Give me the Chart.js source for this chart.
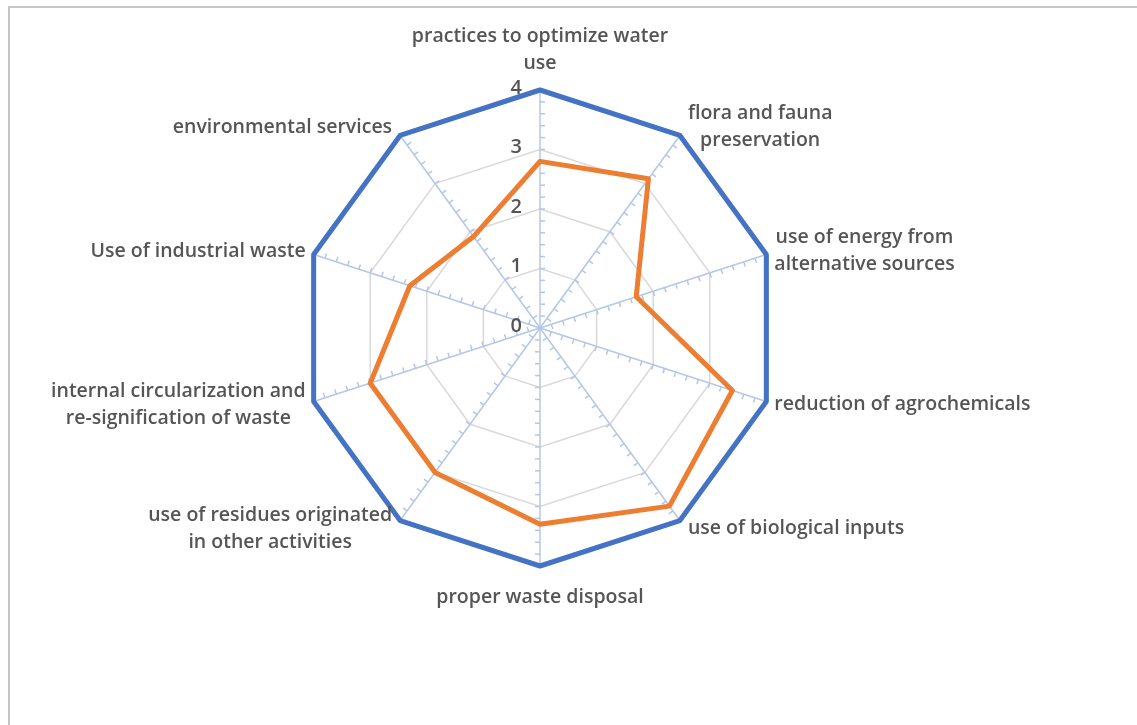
<!DOCTYPE html>
<html>
<head>
<meta charset="utf-8">
<script src="https://cdn.jsdelivr.net/npm/chart.js@4.4.1/dist/chart.umd.min.js"></script>
<style>
  html, body { margin: 0; padding: 0; background: #fff; }
  #frame { position: absolute; left: 8px; top: 6px; width: 1200px; height: 800px;
           border-left: 2px solid #c6c6c6; border-top: 2px solid #c6c6c6; }
  #wrap { position: absolute; left: 0; top: 0; width: 1137px; height: 725px; }
</style>
</head>
<body>
<div id="frame"></div>
<div id="wrap"><canvas id="radar"></canvas></div>
<script>
"use strict";
// Sustainability practices radar: each practice scored 0–4, outer ring = max score.
const practices = [
  ["practices to optimize water", "use"],
  ["flora and fauna", "preservation"],
  ["use of energy from", "alternative sources"],
  ["reduction of agrochemicals"],
  ["use of biological inputs"],
  ["proper waste disposal"],
  ["use of residues originated", "in other activities"],
  ["internal circularization and", "re-signification of waste"],
  ["Use of industrial waste"],
  ["environmental services"]
];
const maxScore = [4, 4, 4, 4, 4, 4, 4, 4, 4, 4];
const score    = [2.8, 3.1, 1.7, 3.4, 3.7, 3.3, 3.0, 3.0, 2.3, 1.9];
const tickValues = [0, 1, 2, 3, 4];

const TEXT = "#555555", AXIS = "#b4c7e7", GRID = "#d9d9d9";
const LABEL_FONT = "600 19.5px 'Open Sans'", TICK_FONT = "600 20px 'Open Sans'";

// small tick marks every 0.2 along each spoke, on the clockwise side
const spokeTicks = {
  id: "spokeTicks",
  beforeDatasetsDraw(chart){
    const s = chart.scales.r, ctx = chart.ctx;
    ctx.save();
    ctx.strokeStyle = AXIS; ctx.lineWidth = 1.5;
    for(let i = 0; i < practices.length; i++){
      const a = s.getIndexAngle(i) - Math.PI / 2;
      const ux = Math.cos(a), uy = Math.sin(a), px = -uy, py = ux;
      for(let k = 1; k < 20; k++){
        const p = s.getPointPositionForValue(i, k * 0.2);
        ctx.beginPath();
        ctx.moveTo(p.x, p.y);
        ctx.lineTo(p.x + px * 5, p.y + py * 5);
        ctx.stroke();
      }
    }
    ctx.restore();
  }
};

// value labels left of the vertical spoke, category labels outside each vertex
const labels = {
  id: "labels",
  afterDraw(chart){
    const s = chart.scales.r, ctx = chart.ctx;
    ctx.save();
    ctx.fillStyle = TEXT;
    ctx.font = TICK_FONT; ctx.textAlign = "right"; ctx.textBaseline = "middle";
    tickValues.forEach(v => {
      ctx.fillText(String(v), s.xCenter - 18, s.yCenter - s.getDistanceFromCenterForValue(v) - 2);
    });

    ctx.font = LABEL_FONT; ctx.textAlign = "center"; ctx.textBaseline = "middle";
    const lh = 27;
    practices.forEach((lines, i) => {
      const v = s.getPointPosition(i, s.drawingArea);
      const ang = s.getIndexAngle(i), sn = Math.sin(ang), cs = Math.cos(ang);
      const w = Math.max(...lines.map(t => ctx.measureText(t).width)), h = lines.length * lh;
      let cx, cy;
      if(Math.abs(sn) < 0.01){
        cx = v.x;
        cy = cs > 0 ? v.y - 13 - h / 2 : v.y + 18 + h / 2;
      } else {
        cx = v.x + Math.sign(sn) * (8 + w / 2);
        cy = v.y - cs * 10;
      }
      lines.forEach((t, j) => ctx.fillText(t, cx, cy - h / 2 + lh * (j + 0.5)));
    });
    ctx.restore();
  }
};

new Chart(document.getElementById("radar"), {
  type: "radar",
  data: {
    labels: practices,
    datasets: [
      { label: "Maximum", data: maxScore, borderColor: "#4472c4", borderWidth: 5,
        fill: false, pointRadius: 0, tension: 0, borderJoinStyle: "round" },
      { label: "Score", data: score, borderColor: "#ed7d31", borderWidth: 5,
        fill: false, pointRadius: 0, tension: 0, borderJoinStyle: "round" }
    ]
  },
  options: {
    responsive: true, maintainAspectRatio: false, animation: false,
    layout: { padding: { left: 302, right: 359, top: 90, bottom: 159 } },
    plugins: { legend: { display: false }, tooltip: { enabled: false } },
    scales: {
      r: {
        min: 0, max: 4,
        ticks: { display: false, stepSize: 1 },
        grid: { color: GRID, lineWidth: 1.5 },
        angleLines: { color: AXIS, lineWidth: 1.5 },
        pointLabels: { display: false }
      }
    }
  },
  plugins: [spokeTicks, labels]
});
</script>
</body>
</html>
